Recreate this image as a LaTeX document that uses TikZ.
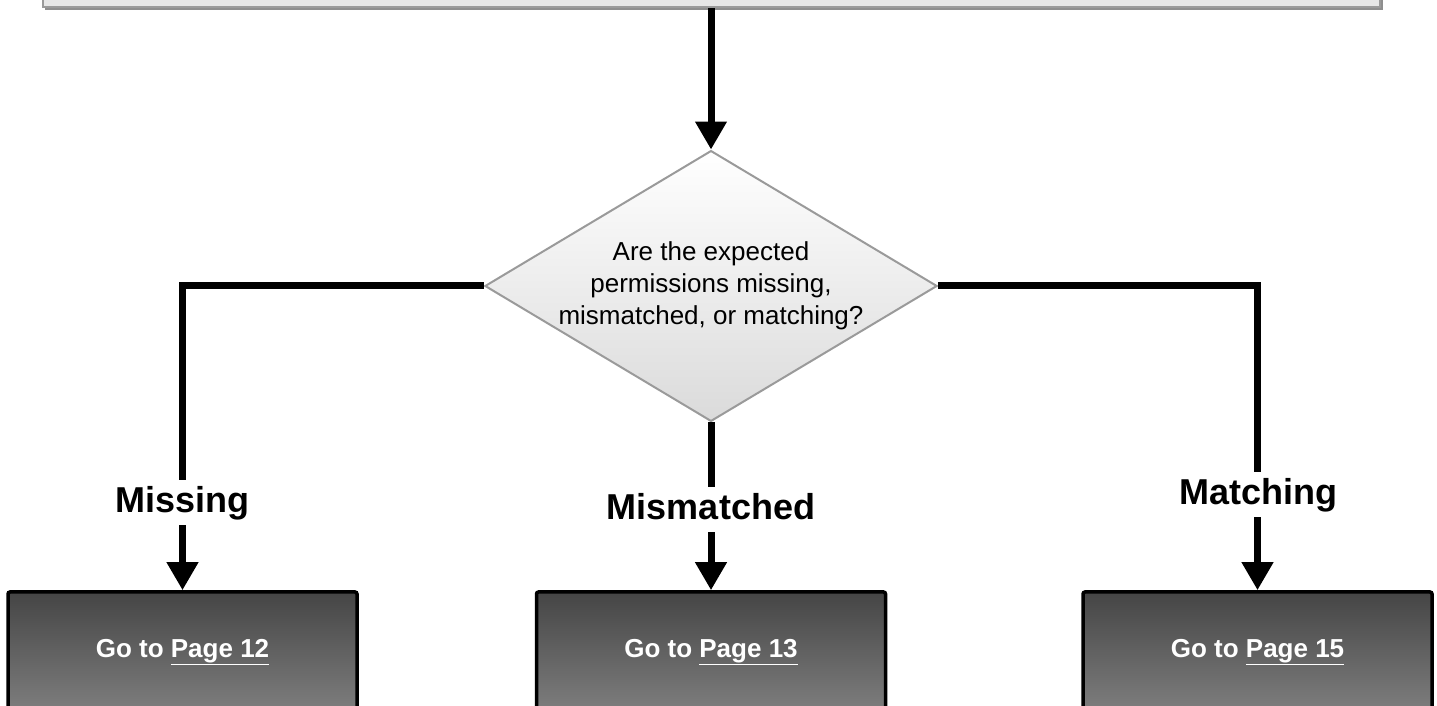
\documentclass[tikz,border=0pt]{standalone}
\usepackage{fontspec}
\setmainfont{Liberation Sans}
\usetikzlibrary{shapes.geometric,arrows.meta}

\definecolor{panelgray}{HTML}{E6E6E6}
\definecolor{edgegray}{HTML}{9A9A9A}
\definecolor{shadowgray}{HTML}{8E8E8E}
\definecolor{boxtop}{HTML}{454545}
\definecolor{boxbottom}{HTML}{7E7E7E}

\tikzset{
  conn/.style={line width=7pt, -{Triangle[length=28pt,width=30pt]}},
  topbox/.style={rectangle, fill=panelgray, draw=edgegray, line width=2pt,
    minimum width=1337pt, minimum height=61pt, inner sep=0pt},
  decision/.style={diamond, aspect=1.67, minimum width=448pt, minimum height=268pt,
    inner sep=0pt, draw=edgegray, line width=2pt, top color=white, bottom color=panelgray!95!black,
    align=center, font=\fontsize{26pt}{32pt}\selectfont},
  gotobox/.style={rectangle, rounded corners=2pt, draw=black, line width=3.5pt,
    top color=boxtop, bottom color=boxbottom, minimum width=349pt, minimum height=120pt,
    inner sep=0pt, text=white, font=\bfseries\fontsize{26pt}{30pt}\selectfont},
  branch/.style={fill=white, inner xsep=2pt, inner ysep=6pt, text height=26pt, text depth=7pt,
    font=\bfseries\fontsize{36pt}{40pt}\selectfont}
}

\begin{document}
\begin{tikzpicture}[x=1pt,y=1pt]
  \useasboundingbox (0,0) rectangle (1437,706);
  \clip (0,0) rectangle (1437,706);

  % panel at the top, with its shadow
  \fill[shadowgray] (44.5,696) rectangle (1382.5,760);
  \node[topbox] (top) at (711,729.5) {};

  % decision
  \node[decision] (dia) at (711,420)
    {Are the expected\\permissions missing,\\mismatched, or matching?};

  % targets
  \node[gotobox] (b1) at (182.5,54) {Go to \underline{Page 12}};
  \node[gotobox] (b2) at (711,54) {Go to \underline{Page 13}};
  \node[gotobox] (b3) at (1257.5,54) {Go to \underline{Page 15}};

  % connectors
  \draw[conn] (top.south) -- (dia.north);
  \draw[conn] (dia.west) -| (b1.north);
  \draw[conn] (dia.south) -- (b2.north);
  \draw[conn] (dia.east) -| (b3.north);

  % branch labels
  \node[branch] (lmissing) at (182.5,203) {Missing};
  \node[branch] (lmismatched) at (711,196) {Mismatched};
  \node[branch] (lmatching) at (1258,211) {Matching};
\end{tikzpicture}
\end{document}
